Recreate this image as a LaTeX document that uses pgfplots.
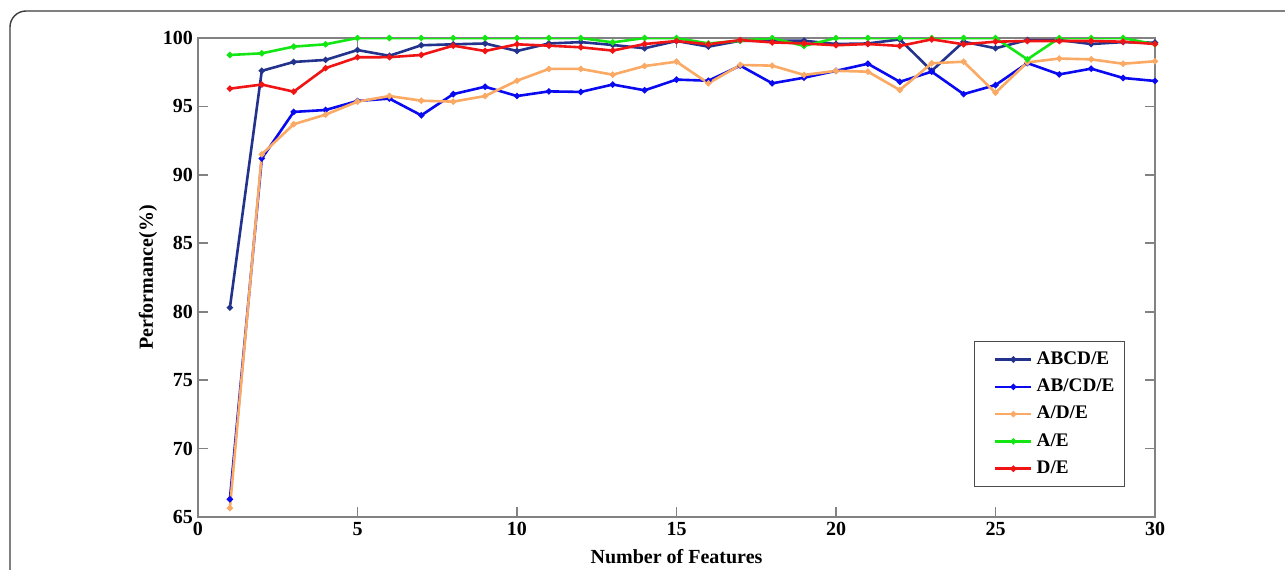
\documentclass[border=0pt]{standalone}
\usepackage{pgfplots}
\pgfplotsset{compat=1.18}
\usepackage{fontspec}
\setmainfont{Liberation Serif}
\definecolor{cNavy}{RGB}{35,50,140}
\definecolor{cBlue}{RGB}{10,10,240}
\definecolor{cOrange}{RGB}{250,170,100}
\definecolor{cGreen}{RGB}{20,230,20}
\definecolor{cRed}{RGB}{240,20,20}
\definecolor{cAxis}{RGB}{130,130,130}
\begin{document}
\begin{tikzpicture}
\useasboundingbox (-99pt,-26pt) rectangle (543.5pt,258.5pt);
\draw[rounded corners=8pt, color={rgb,255:red,60;green,60;blue,60}, line width=0.7pt] (-94pt,-60pt) -- (-94pt,253pt) -- (580pt,253pt);
\begin{axis}[
  at={(0,0)}, anchor=south west,
  scale only axis, width=478.5pt, height=239.5pt,
  xmin=0, xmax=30, ymin=65, ymax=100,
  xtick={0,5,...,30}, ytick={65,70,...,100},
  tick align=inside, major tick length=5pt,
  axis line style={cAxis, line width=0.8pt},
  tick style={cAxis, line width=0.8pt},
  /pgf/number format/assume math mode=true,
  tick label style={font=\bfseries\fontsize{10}{12}\selectfont, black},
  xticklabel style={yshift=1pt},
  yticklabel style={xshift=1pt},
  xlabel={\bfseries Number of Features},
  ylabel={\bfseries Performance(\%)},
  label style={font=\bfseries\fontsize{10}{12}\selectfont},
  xlabel style={yshift=0pt},
  ylabel style={yshift=-4pt},
  legend style={at={(0.9687,0.0626)}, anchor=south east, draw=black!70, line width=0.5pt,
    font=\bfseries\fontsize{9.6}{11}\selectfont, row sep=1.8pt, inner ysep=3pt, inner xsep=3pt},
  legend cell align=left,
  legend image code/.code={\path (-7pt,0pt); \draw[mark repeat=2,mark phase=2,#1,line width=1.3pt,mark=*,mark size=0.8pt] plot coordinates {(0pt,0pt) (9pt,0pt) (18pt,0pt)};},
  every axis plot/.append style={line width=1.3pt, mark=*, mark size=0.8pt},
]
\addplot[cNavy] coordinates {
(1,80.3)(2,97.6)(3,98.25)(4,98.4)(5,99.12)(6,98.7)(7,99.47)(8,99.54)(9,99.6)(10,99.05)
(11,99.6)(12,99.7)(13,99.49)(14,99.25)(15,99.78)(16,99.37)(17,99.8)(18,99.8)(19,99.8)(20,99.56)
(21,99.6)(22,99.9)(23,97.6)(24,99.73)(25,99.25)(26,99.85)(27,99.85)(28,99.56)(29,99.7)(30,99.66)};
\addlegendentry{ABCD/E}
\addplot[cBlue] coordinates {
(1,66.3)(2,91.2)(3,94.6)(4,94.74)(5,95.4)(6,95.57)(7,94.35)(8,95.9)(9,96.44)(10,95.76)
(11,96.1)(12,96.06)(13,96.6)(14,96.18)(15,96.96)(16,96.88)(17,97.98)(18,96.69)(19,97.1)(20,97.6)
(21,98.12)(22,96.8)(23,97.54)(24,95.9)(25,96.56)(26,98.17)(27,97.34)(28,97.76)(29,97.08)(30,96.86)};
\addlegendentry{AB/CD/E}
\addplot[cOrange] coordinates {
(1,65.65)(2,91.5)(3,93.7)(4,94.4)(5,95.35)(6,95.76)(7,95.42)(8,95.35)(9,95.76)(10,96.88)
(11,97.74)(12,97.74)(13,97.32)(14,97.95)(15,98.27)(16,96.69)(17,98.03)(18,97.98)(19,97.3)(20,97.6)
(21,97.54)(22,96.2)(23,98.15)(24,98.27)(25,96.0)(26,98.22)(27,98.5)(28,98.44)(29,98.12)(30,98.3)};
\addlegendentry{A/D/E}
\addplot[cGreen] coordinates {
(1,98.76)(2,98.88)(3,99.37)(4,99.54)(5,100)(6,100)(7,100)(8,100)(9,100)(10,100)
(11,100)(12,100)(13,99.68)(14,100)(15,100)(16,99.6)(17,99.8)(18,100)(19,99.42)(20,100)
(21,100)(22,100)(23,100)(24,100)(25,100)(26,98.44)(27,100)(28,100)(29,100)(30,99.54)};
\addlegendentry{A/E}
\addplot[cRed] coordinates {
(1,96.3)(2,96.6)(3,96.08)(4,97.8)(5,98.59)(6,98.6)(7,98.76)(8,99.44)(9,99.05)(10,99.54)
(11,99.44)(12,99.32)(13,99.08)(14,99.56)(15,99.78)(16,99.54)(17,99.85)(18,99.68)(19,99.6)(20,99.47)
(21,99.56)(22,99.42)(23,99.9)(24,99.54)(25,99.73)(26,99.78)(27,99.78)(28,99.78)(29,99.73)(30,99.56)};
\addlegendentry{D/E}
\end{axis}
\end{tikzpicture}
\end{document}
